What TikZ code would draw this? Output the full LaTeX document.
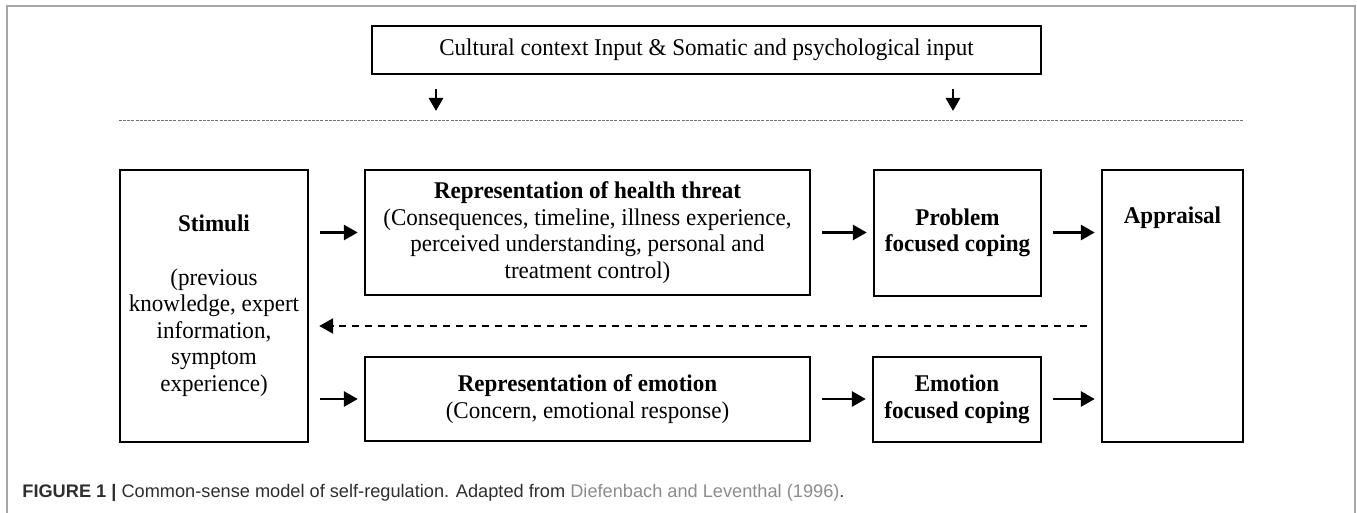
\documentclass[tikz,border=0pt]{standalone}
\usepackage{fontspec}
\setmainfont[FakeStretch=0.96]{Liberation Serif}
\setsansfont{Liberation Sans}
\usetikzlibrary{positioning}
\usetikzlibrary{arrows.meta}
\usetikzlibrary{calc}
\definecolor{capgray}{HTML}{2E2E2E}
\definecolor{citegray}{HTML}{8C8C8C}
\begin{document}
\begin{tikzpicture}[x=0.5pt, y=-0.5pt,
    box/.style={draw, line width=1.2pt, align=center, inner sep=2pt, font=\fontsize{12}{13.3}\selectfont},
    arr/.style={line width=1.4pt, -{Triangle[length=7pt, width=7.5pt]}, shorten <=5.5pt, shorten >=3pt},
    dn/.style={line width=1.4pt, -{Triangle[length=6.5pt, width=7pt]}}]
    \useasboundingbox (0,0) rectangle (1357,513);
    \draw[gray!70, line width=0.9pt] (7,6) rectangle (1355,530);

    \node[box, minimum width=334.5pt, minimum height=24pt] (top) at (706.5,50) {Cultural context Input \& Somatic and psychological input};
    \node[box, minimum width=94pt, minimum height=136pt] (stim) at (214,306) {\textbf{Stimuli}\\[13.3pt](previous\\knowledge, expert\\information,\\symptom\\experience)};
    \node[box, minimum width=222.5pt, minimum height=62.5pt] (rht) at (587.5,232.5) {\textbf{Representation of health threat}\\(Consequences, timeline, illness experience,\\perceived understanding, personal and\\treatment control)};
    \node[box, minimum width=83.5pt, minimum height=63pt] (prob) at (957.5,233) {\textbf{Problem}\\\textbf{focused coping}};
    \node[box, minimum width=222.5pt, minimum height=42pt] (remo) at (587.5,399) {\textbf{Representation of emotion}\\(Concern, emotional response)};
    \node[box, minimum width=84pt, minimum height=42.5pt] (emo) at (957,399.5) {\textbf{Emotion}\\\textbf{focused coping}};
    \node[box, minimum width=70.5pt, minimum height=136pt] (appr) at (1172.5,306) {};
    \node[font=\fontsize{12}{13.3}\selectfont\bfseries] (apprtext) at (1172.5,218) {Appraisal};

    % input arrows and separator
    \coordinate (d1) at (436,111);
    \coordinate (d2) at (953,111);
    \draw[dn, shorten <=7pt] (top.south -| d1) -- (d1);
    \draw[dn, shorten <=7pt] (top.south -| d2) -- (d2);
    \coordinate (sep) at (0,121);
    \draw[gray!90!black, line width=0.5pt, dash pattern=on 1.5pt off 0.6pt] (stim.west |- sep) -- (appr.east |- sep);

    % flow
    \draw[arr] (stim.east |- rht.west) -- (rht.west);
    \draw[arr] (stim.east |- remo.west) -- (remo.west);
    \draw[arr] (rht.east) -- (prob.west |- rht.east);
    \draw[arr] (remo.east) -- (emo.west |- remo.east);
    \draw[arr] (prob.east |- rht.east) -- (appr.west |- rht.east);
    \draw[arr] (emo.east |- remo.east) -- (appr.west |- remo.east);
    \coordinate (mid) at (0,326);
    \draw[arr, line width=1.2pt, dash pattern=on 3.5pt off 3pt, shorten <=7pt, shorten >=5pt] (appr.west |- mid) -- (stim.east |- mid);

    \node[anchor=base west, font=\sffamily\fontsize{9.1}{11}\selectfont, text=capgray, inner sep=0pt] (cap) at (22,498) {\textbf{FIGURE 1} \textbf{|} Common-sense model of self-regulation. Adapted from \textcolor{citegray}{Diefenbach and Leventhal (1996)}.};
\end{tikzpicture}
\end{document}
